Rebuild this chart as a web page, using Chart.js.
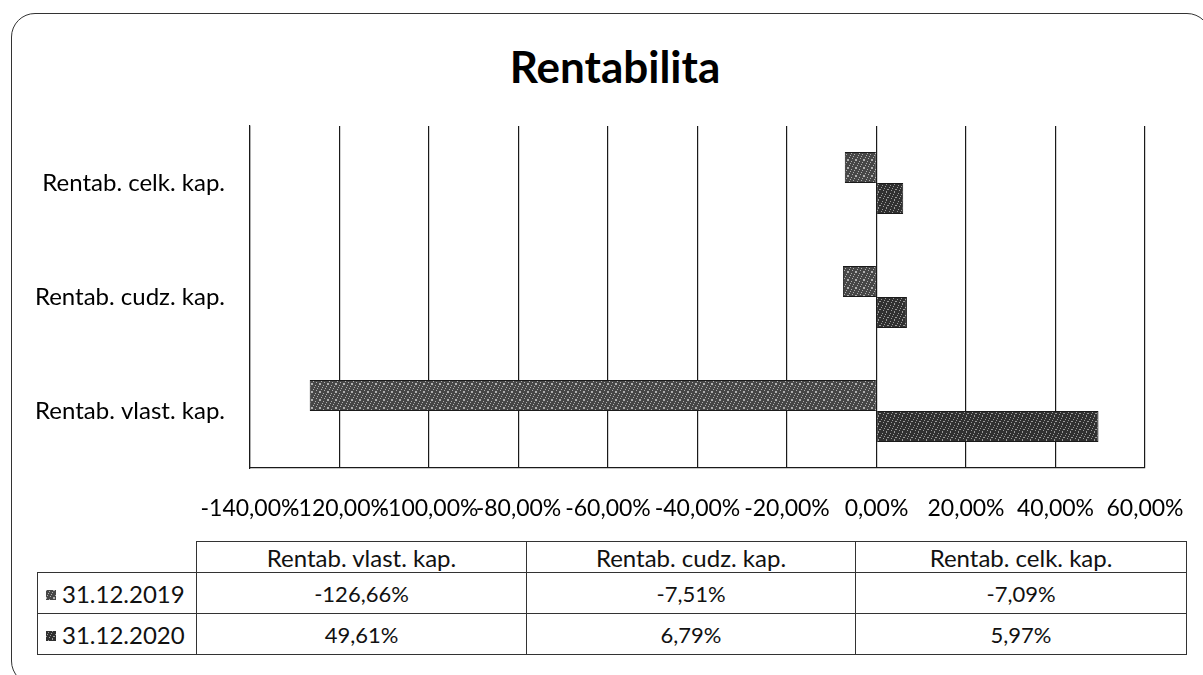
<!DOCTYPE html>
<html><head><meta charset="utf-8">
<script src="https://cdn.jsdelivr.net/npm/chart.js@4/dist/chart.umd.min.js"></script>
<style>
html,body{margin:0;padding:0;background:#fff;}
body{width:1203px;height:675px;position:relative;overflow:hidden;font-family:Lato,'Noto Sans',sans-serif;}
#frame{position:absolute;left:11px;top:13px;width:1200px;height:672px;border:1.5px solid #333;border-radius:24px;box-sizing:border-box;}
#title{position:absolute;left:0;top:40px;width:1230px;text-align:center;font-weight:bold;font-size:44px;line-height:1.2;color:#000;}
#wrap{position:absolute;left:0;top:0;width:1203px;height:530px;}
#tbl{position:absolute;left:37px;top:541px;border-collapse:collapse;font-size:22px;color:#111;table-layout:fixed;}
#tbl td{border:1.5px solid #333;text-align:center;padding:0;white-space:nowrap;}
#tbl tr.hdr td{font-size:24px;}
#tbl td.empty{border:none;}
#tbl td.leg{text-align:left;padding-left:8px;font-size:24px;}
#tbl .key{display:inline-block;width:10px;height:10px;margin-right:6px;vertical-align:middle;position:relative;top:-1px;}
</style>
</head><body>
<div id="frame"></div>
<div id="title">Rentabilita</div>
<div id="wrap"><canvas id="c" width="1203" height="530"></canvas></div>
<table id="tbl"></table>
<script>
// ---- data ----
const categories = ['Rentab. vlast. kap.', 'Rentab. cudz. kap.', 'Rentab. celk. kap.'];
const seriesNames = ['31.12.2019', '31.12.2020'];
const values2019 = [-126.66, -7.51, -7.09];
const values2020 = [49.61, 6.79, 5.97];
const axisMin = -140, axisMax = 60, axisStep = 20;

function fmt(v){ return v.toFixed(2).replace('.', ',') + '%'; }

function makePatternCanvas(base, light, seed){
  const c = document.createElement('canvas'); c.width = 8; c.height = 8;
  const g = c.getContext('2d'); g.fillStyle = base; g.fillRect(0,0,8,8);
  g.fillStyle = light;
  for (let y=0;y<8;y++) for (let x=0;x<8;x++){ if (((x*3 + y*5 + seed) % 7) === 0) g.fillRect(x,y,1,1); }
  return c;
}
const patC1 = makePatternCanvas('#474747', '#b0b0b0', 0);
const patC2 = makePatternCanvas('#303030', '#9a9a9a', 3);
const ctx = document.getElementById('c').getContext('2d');
const pat1 = ctx.createPattern(patC1, 'repeat');
const pat2 = ctx.createPattern(patC2, 'repeat');

new Chart(ctx, {
  type: 'bar',
  data: {
    labels: categories.slice().reverse(),
    datasets: [
      {label: seriesNames[0], data: values2019.slice().reverse(), backgroundColor: pat1, borderColor: '#1a1a1a', borderWidth: 1, categoryPercentage: 0.545, barPercentage: 1},
      {label: seriesNames[1], data: values2020.slice().reverse(), backgroundColor: pat2, borderColor: '#1a1a1a', borderWidth: 1, categoryPercentage: 0.545, barPercentage: 1}
    ]
  },
  options: {
    indexAxis: 'y', responsive: false, animation: false, devicePixelRatio: 1,
    layout: {padding: {top: 126, right: 58, left: 0, bottom: 0}},
    plugins: {legend: {display: false}, tooltip: {enabled: false}, title: {display: false}},
    scales: {
      x: {
        min: axisMin, max: axisMax,
        ticks: {stepSize: axisStep, autoSkip: false, maxRotation: 0, minRotation: 0, padding: 27, color: '#000', font: {family: 'Lato', size: 23}, callback: v => fmt(v)},
        grid: {color: '#1a1a1a', lineWidth: 1.2, drawTicks: false},
        border: {color: '#1a1a1a', width: 1.2},
        afterFit(s){ s.height = 62; s.paddingLeft = 0; s.paddingRight = 0; }
      },
      y: {
        ticks: {color: '#000', padding: 25, font: {family: 'Lato', size: 24}},
        grid: {display: false, drawTicks: false},
        border: {display: true, color: '#1a1a1a', width: 1.2},
        afterFit(s){ s.width = 250; s.paddingTop = 0; s.paddingBottom = 0; }
      }
    }
  }
});

// ---- data table ----
const tbl = document.getElementById('tbl');
const colW = [159, 330, 329, 331];
const cg = document.createElement('colgroup');
colW.forEach(w => { const c = document.createElement('col'); c.style.width = w + 'px'; cg.appendChild(c); });
tbl.appendChild(cg);
const hr = document.createElement('tr'); hr.style.height = '31px'; hr.className = 'hdr';
const e = document.createElement('td'); e.className = 'empty'; hr.appendChild(e);
categories.forEach(cat => { const td = document.createElement('td'); td.textContent = cat; hr.appendChild(td); });
tbl.appendChild(hr);
[[seriesNames[0], values2019, patC1], [seriesNames[1], values2020, patC2]].forEach(([name, vals, pc]) => {
  const tr = document.createElement('tr'); tr.style.height = '41px';
  const td0 = document.createElement('td'); td0.className = 'leg';
  const k = document.createElement('span'); k.className = 'key'; k.style.backgroundImage = 'url(' + pc.toDataURL() + ')';
  td0.appendChild(k); td0.appendChild(document.createTextNode(name)); tr.appendChild(td0);
  vals.forEach(v => { const td = document.createElement('td'); td.textContent = fmt(v); tr.appendChild(td); });
  tbl.appendChild(tr);
});
</script>
</body></html>
